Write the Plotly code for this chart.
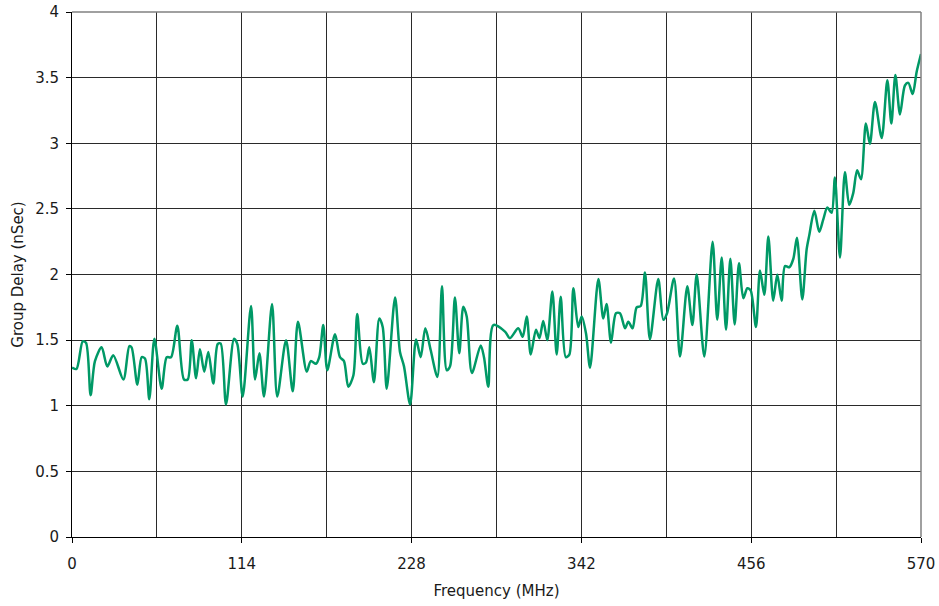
import plotly.graph_objects as go

freq_mhz = [0, 3, 7.2, 9.4, 12.5, 15.4, 19.9, 23.7, 27.7, 34.5, 38.5, 40, 43.9, 46.8, 49, 51.9,
            55.3, 60.2, 63.6, 66.5, 70.7, 75.2, 77.7, 80.4, 83.3, 85.9, 88.8, 91.5, 94.9, 97.8,
            99.8, 103.4, 108.8, 111, 114.6, 120.2, 122.9, 125.8, 128.9, 134.3, 137.8, 143.7,
            148.2, 151.7, 157.6, 160.3, 163.8, 166, 168.7, 171.4, 176.6, 179.9, 182.6, 185.5,
            188.9, 191.5, 195.2, 197.4, 199.6, 202.7, 206.3, 208.6, 211.3, 216.9, 220.2, 222.9,
            227, 231, 234.1, 237.2, 240.8, 245.3, 248.4, 251.6, 253.8, 257.1, 260, 262.7, 265,
            268.5, 274.4, 276.6, 279.5, 282.9, 290.7, 294, 299.6, 302.6, 305.3, 308, 311.5,
            313.8, 316.4, 319.1, 322.5, 325.4, 328.1, 331.5, 333.9, 336.6, 339.9, 342.2, 345.1,
            347.8, 353.4, 356.7, 358.9, 361.9, 365.2, 367.9, 371.3, 373.5, 376.4, 379.1, 381.8,
            384.7, 388, 393.6, 397, 399.5, 404.2, 408.2, 413.1, 416.5, 419.4, 424.5, 430.1,
            433.2, 436.2, 439.1, 442, 444.9, 447.8, 450.7, 453.4, 455.6, 459.2, 461.9, 464.8,
            467.5, 470.8, 473.5, 476.4, 478.7, 481.6, 484.3, 486.7, 490.3, 493.2, 495, 498.4,
            501.7, 504.4, 507.1, 510, 512.2, 515.6, 518.9, 521.8, 524.5, 527.1, 529.7, 533,
            535.7, 539.1, 543.6, 547.4, 550.1, 552.8, 555.9, 559.2, 561.5, 564.4, 567.1, 570]

group_delay_ns = [1.29, 1.28, 1.49, 1.48, 1.08, 1.34, 1.445, 1.30, 1.385, 1.20, 1.455, 1.445, 1.16,
                  1.37, 1.36, 1.05, 1.51, 1.13, 1.37, 1.37, 1.61, 1.20, 1.20, 1.50, 1.21, 1.43,
                  1.26, 1.41, 1.17, 1.47, 1.475, 1.01, 1.51, 1.47, 1.07, 1.76, 1.20, 1.40, 1.07,
                  1.775, 1.07, 1.50, 1.11, 1.64, 1.26, 1.34, 1.32, 1.37, 1.615, 1.27, 1.545, 1.37,
                  1.34, 1.145, 1.23, 1.70, 1.32, 1.33, 1.445, 1.18, 1.665, 1.60, 1.13, 1.825, 1.41,
                  1.30, 1.01, 1.505, 1.37, 1.59, 1.425, 1.22, 1.91, 1.27, 1.30, 1.825, 1.40, 1.755,
                  1.68, 1.25, 1.46, 1.37, 1.145, 1.615, 1.565, 1.515, 1.59, 1.525, 1.68, 1.39, 1.58,
                  1.515, 1.645, 1.50, 1.87, 1.39, 1.83, 1.37, 1.39, 1.895, 1.60, 1.68, 1.55, 1.29,
                  1.965, 1.665, 1.775, 1.48, 1.705, 1.705, 1.59, 1.64, 1.59, 1.75, 1.76, 2.015,
                  1.505, 1.965, 1.655, 1.705, 1.97, 1.375, 1.91, 1.615, 2.00, 1.375, 2.25, 1.655,
                  2.13, 1.58, 2.12, 1.62, 2.085, 1.82, 1.895, 1.88, 1.60, 2.03, 1.845, 2.29, 1.80,
                  2.00, 1.80, 2.065, 2.055, 2.12, 2.28, 1.81, 2.19, 2.30, 2.485, 2.325, 2.42, 2.51,
                  2.47, 2.74, 2.13, 2.78, 2.53, 2.62, 2.795, 2.725, 3.15, 2.995, 3.315, 3.04, 3.48,
                  3.15, 3.52, 3.22, 3.44, 3.46, 3.375, 3.545, 3.68]

x_ticks = [0, 114, 228, 342, 456, 570]
y_ticks = [0, 0.5, 1, 1.5, 2, 2.5, 3, 3.5, 4]
y_tick_labels = ["0", "0.5", "1", "1.5", "2", "2.5", "3", "3.5", "4"]

FONT = "DejaVu Sans"
GRID = "#2a2a2a"
FS = 15

fig = go.Figure()
fig.add_trace(go.Scatter(
    x=freq_mhz, y=group_delay_ns, mode="lines",
    line=dict(color="#009966", width=2.5, shape="spline", smoothing=0.8),
    showlegend=False, hoverinfo="x+y",
))

fig.update_layout(
    width=939, height=606,
    margin=dict(l=72, r=18, t=12, b=69),
    paper_bgcolor="white", plot_bgcolor="white",
    font=dict(family=FONT, size=FS, color="#1a1a1a"),
    xaxis=dict(
        range=[0, 570], tickmode="array", tickvals=x_ticks, ticktext=[str(v) for v in x_ticks],
        showgrid=True, gridcolor=GRID, gridwidth=1,
        minor=dict(dtick=57, tick0=0, showgrid=True, gridcolor=GRID, gridwidth=1, ticks=""),
        showline=True, linecolor="black", linewidth=1,
        ticks="outside", ticklen=5, tickcolor="black", ticklabelstandoff=8,
        zeroline=False, automargin=False,
        title=dict(text="Frequency (MHz)", standoff=13, font=dict(size=FS)),
    ),
    yaxis=dict(
        range=[0, 4], tickmode="array", tickvals=y_ticks, ticktext=y_tick_labels,
        showgrid=True, gridcolor=GRID, gridwidth=1,
        showline=True, linecolor="black", linewidth=1,
        ticks="outside", ticklen=5, tickcolor="black", ticklabelstandoff=4,
        zeroline=False, automargin=False,
        title=dict(text="Group Delay (nSec)", standoff=7, font=dict(size=FS)),
    ),
    shapes=[
        dict(type="line", xref="paper", yref="paper", x0=0, x1=1, y0=1, y1=1,
             line=dict(color="#808080", width=1.5), layer="above"),
        dict(type="line", xref="paper", yref="paper", x0=1, x1=1, y0=0, y1=1,
             line=dict(color="#808080", width=1.5), layer="above"),
    ],
)

fig.write_html("out.html",
               config={"displayModeBar": False},
               post_script="document.body.style.margin='0';document.body.style.overflow='hidden';")
